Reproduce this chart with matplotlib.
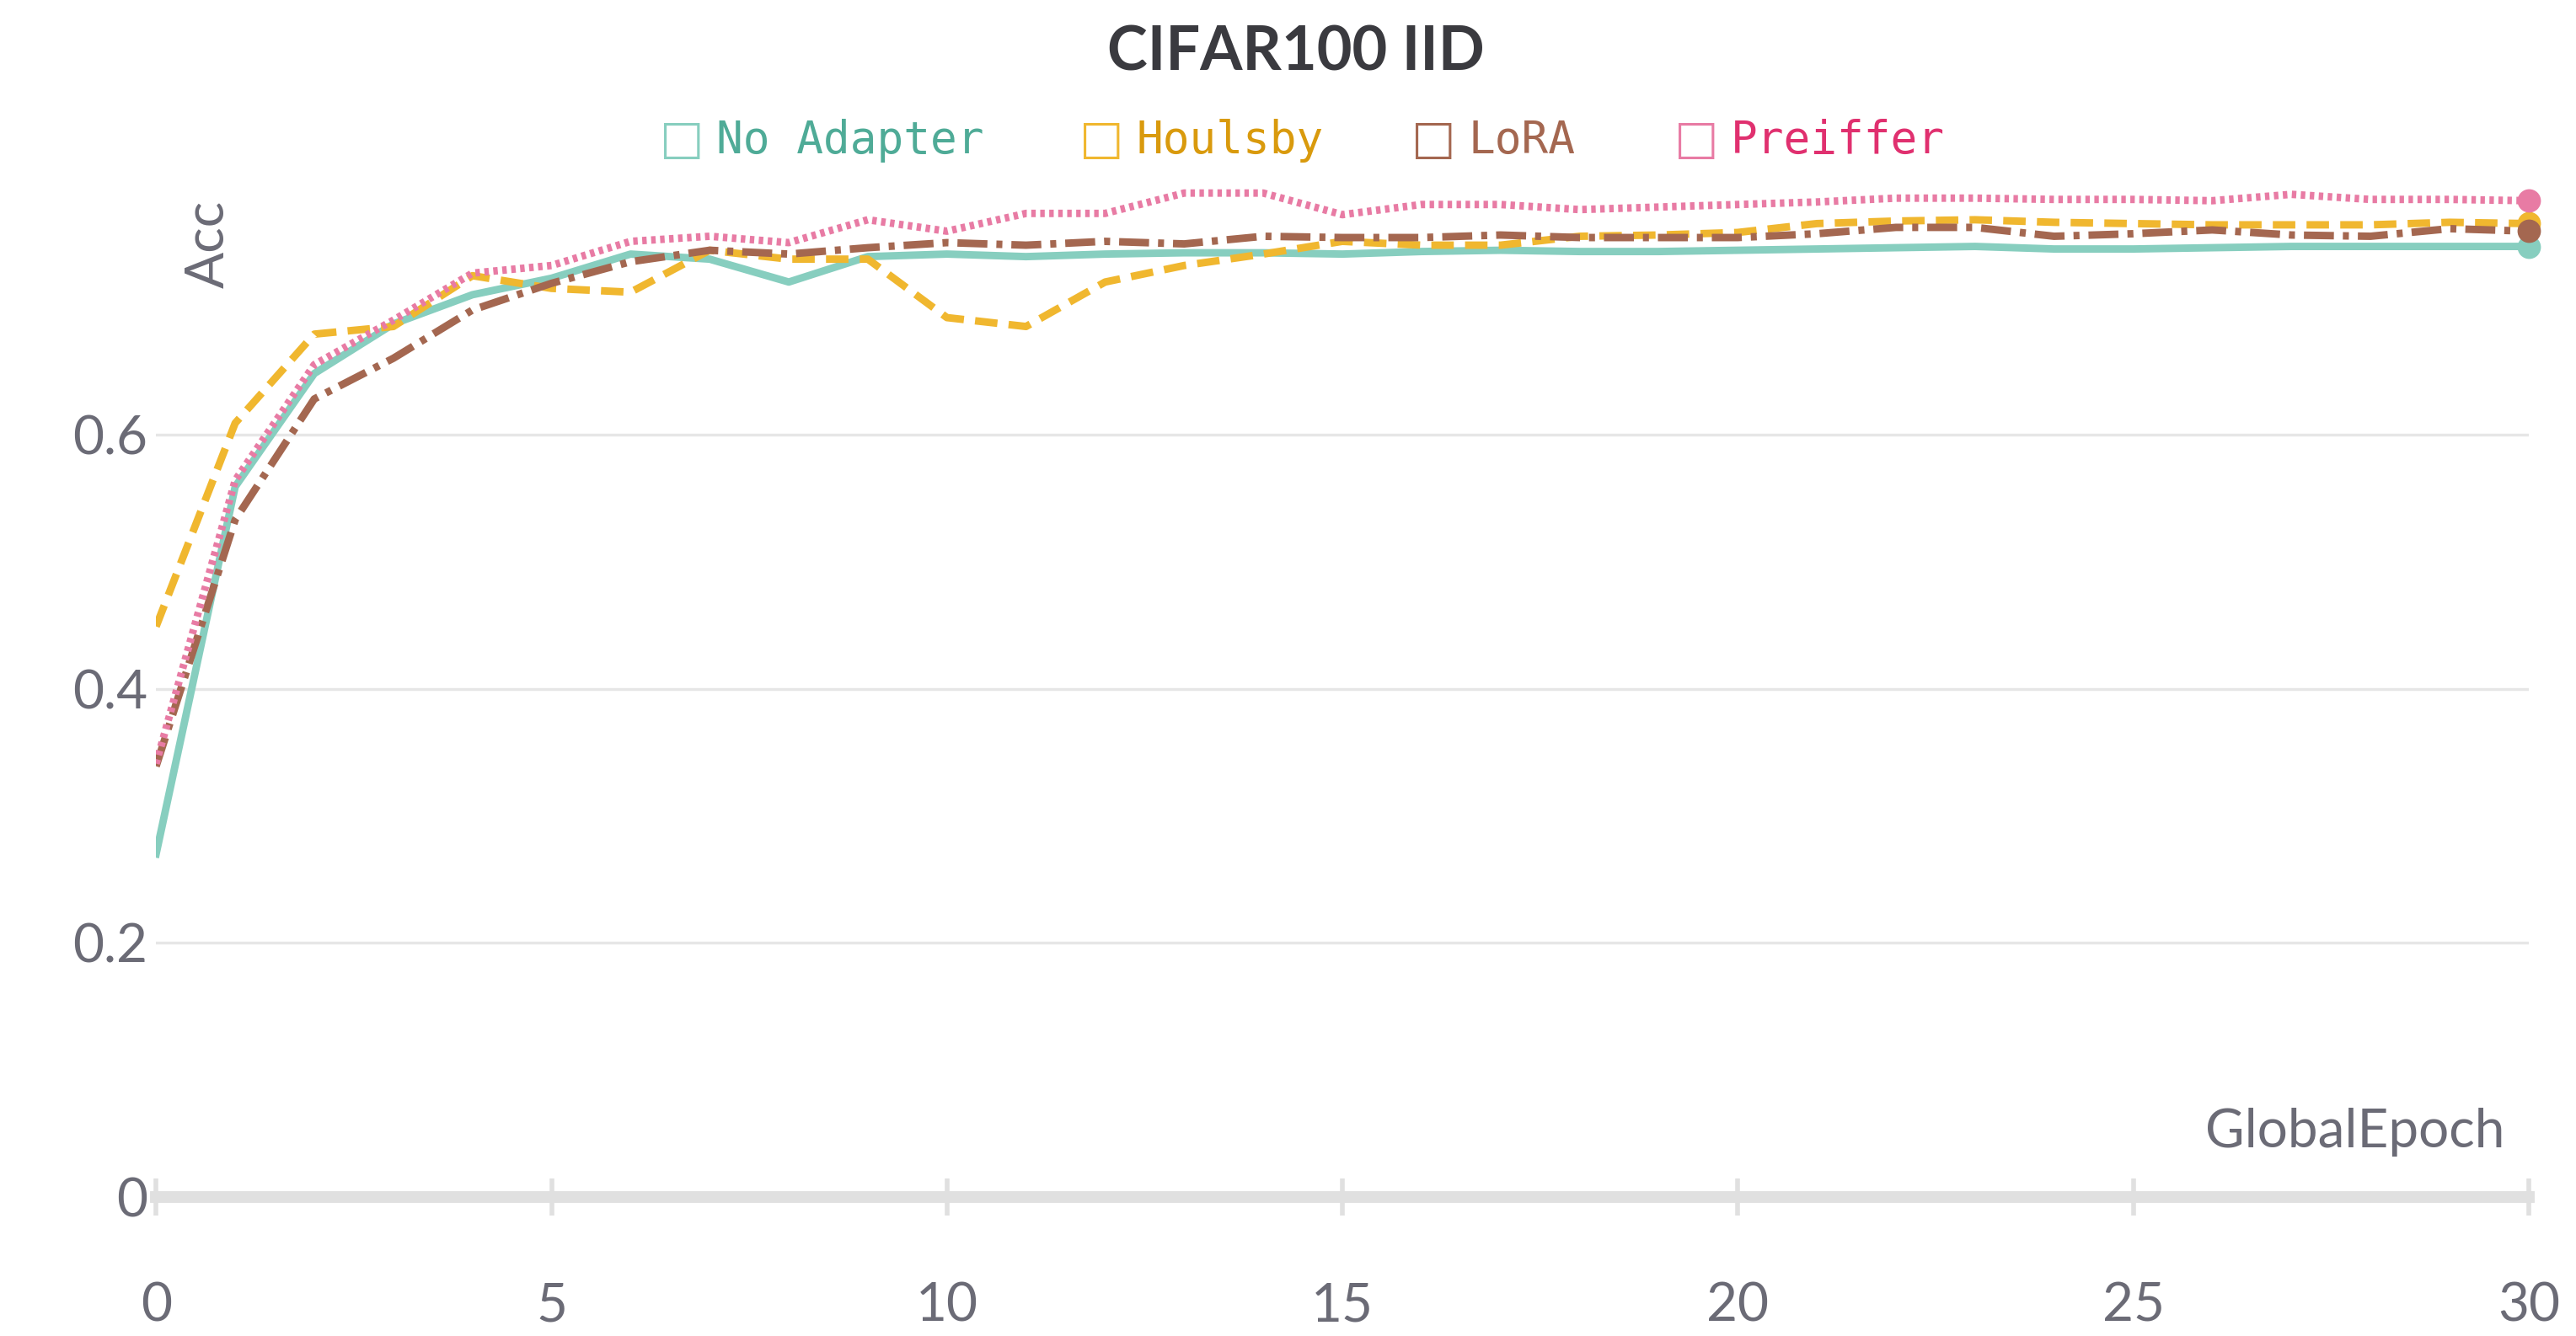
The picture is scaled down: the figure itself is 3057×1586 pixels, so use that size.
import matplotlib
matplotlib.use("Agg")
import matplotlib.pyplot as plt
import numpy as np

epochs = list(range(31))
no_adapter = [0.27,0.559,0.648,0.687,0.71,0.723,0.742,0.738,0.72,0.74,0.742,0.74,0.742,0.743,0.743,0.742,0.744,0.745,0.744,0.744,0.745,0.746,0.747,0.748,0.746,0.746,0.747,0.748,0.748,0.748,0.748]
houlsby = [0.449,0.609,0.679,0.685,0.725,0.715,0.712,0.745,0.738,0.738,0.692,0.685,0.72,0.733,0.742,0.752,0.749,0.749,0.756,0.757,0.759,0.766,0.768,0.769,0.767,0.766,0.765,0.765,0.765,0.767,0.766]
lora = [0.339,0.533,0.628,0.66,0.698,0.719,0.736,0.745,0.742,0.747,0.751,0.749,0.752,0.75,0.756,0.755,0.755,0.757,0.755,0.755,0.755,0.758,0.763,0.763,0.756,0.758,0.761,0.757,0.756,0.762,0.76]
preiffer = [0.341,0.564,0.655,0.69,0.727,0.733,0.752,0.756,0.751,0.769,0.76,0.774,0.774,0.79,0.79,0.773,0.781,0.781,0.777,0.779,0.781,0.783,0.786,0.786,0.785,0.785,0.784,0.789,0.785,0.785,0.784]

names = ["No Adapter", "Houlsby", "LoRA", "Preiffer"]
series = [no_adapter, houlsby, lora, preiffer]
colors = ["#87cebf", "#f0b72f", "#a46750", "#e87ba4"]
text_colors = ["#4fab97", "#d99a0d", "#a46750", "#e0306f"]
styles = ["-", (0, (3, 1.5)), (0, (4, 1.2, 0.8, 1.2)), (0, (0.6, 0.6))]

plt.rcParams['font.family'] = ['Lato', 'DejaVu Sans']
fig = plt.figure(figsize=(15.285, 7.93), dpi=200)
ax = fig.add_axes([0.0606, 0.104, 0.921, 0.761])
for s, c, ls in zip(series, colors, styles):
    ax.plot(epochs, s, color=c, linestyle=ls, linewidth=3.2)
    ax.plot(epochs[-1], s[-1], 'o', color=c, markersize=9, clip_on=False, zorder=5)

ax.set_xlim(0, 30)
ax.set_ylim(0, 0.8)
ax.set_xticks([0,5,10,15,20,25,30])
ax.set_yticks([0,0.2,0.4,0.6])
ax.set_yticklabels(["0","0.2","0.4","0.6"])
ax.tick_params(axis='both', labelsize=23, colors="#6b6b76", length=0)
ax.tick_params(axis='x', pad=28, length=16, width=2, color="#e0e0e0", direction='inout')
ax.grid(axis='y', color="#e6e6e6", linewidth=1.2)
ax.set_axisbelow(True)
for sp in ["top", "right", "left"]:
    ax.spines[sp].set_visible(False)
ax.spines["bottom"].set_color("#e0e0e0")
ax.spines["bottom"].set_linewidth(5)
ax.text(0.012, 0.98, "Acc", transform=ax.transAxes, rotation=90, fontsize=23,
        color="#6b6b76", ha='left', va='top')
ax.text(0.99, 0.04, "GlobalEpoch", transform=ax.transAxes, fontsize=23,
        color="#6b6b76", ha='right', va='bottom')

fig.text(0.503, 0.96, "CIFAR100 IID", fontsize=26, fontweight='bold', color="#3a3a3f",
         ha='center', va='center')
xs = [0.256, 0.419, 0.548, 0.65]
for x, n, tc, c in zip(xs, names, text_colors, colors):
    fig.text(x, 0.895, "\u25a1", fontsize=20, color=c, ha='left', va='center',
             family=['DejaVu Sans'])
    fig.text(x + 0.022, 0.895, n, fontsize=19, color=tc, ha='left', va='center',
             family=['DejaVu Sans Mono'])

fig.savefig("out.png", dpi=200)
